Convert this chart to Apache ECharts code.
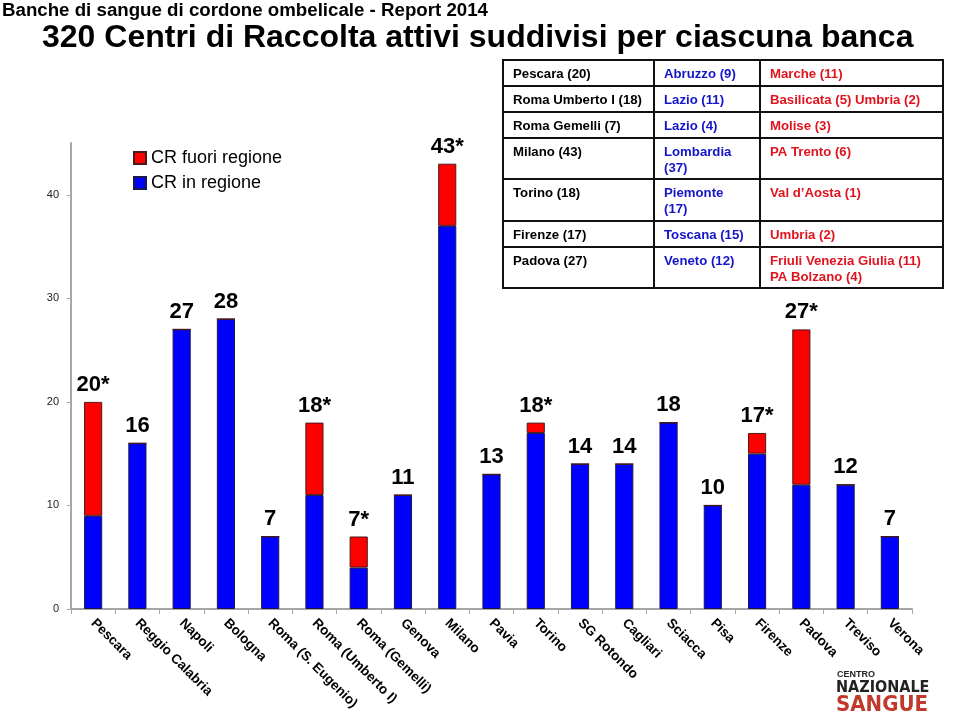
<!DOCTYPE html>
<html>
<head>
<meta charset="UTF-8">
<title>cordone-ombelicale-2014</title>
<script src="https://cdn.jsdelivr.net/npm/echarts@6/dist/echarts.min.js"></script>
<style>
html, body { margin: 0; padding: 0; background: #fff; }
#main { width: 960px; height: 718px; }
</style>
</head>
<body>
<div id="main"></div>
<script>
// banche (categorie asse x)
var banche = ['Pescara', 'Reggio Calabria', 'Napoli', 'Bologna', 'Roma (S. Eugenio)',
  'Roma (Umberto I)', 'Roma (Gemelli)', 'Genova', 'Milano', 'Pavia', 'Torino',
  'SG Rotondo', 'Cagliari', 'Sciacca', 'Pisa', 'Firenze', 'Padova', 'Treviso', 'Verona'];
// CR in regione
var inRegione = [9, 16, 27, 28, 7, 11, 4, 11, 37, 13, 17, 14, 14, 18, 10, 15, 12, 12, 7];
// CR fuori regione
var fuoriRegione = [11, 0, 0, 0, 0, 7, 3, 0, 6, 0, 1, 0, 0, 0, 0, 2, 15, 0, 0];
var yTicks = [0, 10, 20, 30, 40];

// tabella in alto a destra
var tabBanca = ['Pescara (20)', 'Roma Umberto I (18)', 'Roma Gemelli (7)', 'Milano (43)',
  'Torino (18)', 'Firenze (17)', 'Padova (27)'];
var tabIn = ['Abruzzo (9)', 'Lazio (11)', 'Lazio (4)', 'Lombardia\n(37)',
  'Piemonte\n(17)', 'Toscana (15)', 'Veneto (12)'];
var tabFuori = ['Marche (11)', 'Basilicata (5) Umbria (2)', 'Molise (3)', 'PA Trento (6)',
  'Val d\u2019Aosta (1)', 'Umbria (2)', 'Friuli Venezia Giulia (11)\nPA Bolzano (4)'];

var FONT = '"Liberation Sans", Arial, sans-serif';
var totali = inRegione.map(function (v, i) { return v + fuoriRegione[i]; });

// griglia della tabella
var rowY = [60, 86, 112, 138, 179, 221, 247, 288];
var colX = [503, 654, 760, 943];
var graphics = [];
graphics.push({ type: 'rect', shape: { x: colX[0], y: rowY[0], width: colX[3] - colX[0], height: rowY[7] - rowY[0] },
  style: { fill: '#fff', stroke: '#111', lineWidth: 2 }, z: 10 });
for (var r = 1; r < rowY.length - 1; r++) {
  graphics.push({ type: 'line', shape: { x1: colX[0], y1: rowY[r], x2: colX[3], y2: rowY[r] },
    style: { stroke: '#111', lineWidth: 2 }, z: 11 });
}
for (var c = 1; c < colX.length - 1; c++) {
  graphics.push({ type: 'line', shape: { x1: colX[c], y1: rowY[0], x2: colX[c], y2: rowY[7] },
    style: { stroke: '#111', lineWidth: 2 }, z: 11 });
}
var cols = [[tabBanca, '#000'], [tabIn, '#1414c8'], [tabFuori, '#e0141e']];
cols.forEach(function (cc, ci) {
  cc[0].forEach(function (t, ri) {
    graphics.push({ type: 'text', x: colX[ci] + 10, y: rowY[ri] + 6, z: 12,
      style: { text: t, fill: cc[1], font: 'bold 13.2px ' + FONT, lineHeight: 16, verticalAlign: 'top' } });
  });
});

// titoli
graphics.push({ type: 'text', x: 2, y: 1, style: { text: 'Banche di sangue di cordone ombelicale - Report 2014',
  fill: '#000', font: 'bold 18.7px ' + FONT } });
graphics.push({ type: 'text', x: 42, y: 22, style: { text: '320 Centri di Raccolta attivi suddivisi per ciascuna banca',
  fill: '#000', font: 'bold 32px ' + FONT } });

// logo (solo testo)
graphics.push({ type: 'text', x: 837, y: 670, style: { text: 'CENTRO', fill: '#222', font: 'bold 9px ' + FONT } });
graphics.push({ type: 'text', x: 836, y: 680, style: { text: 'NAZIONALE', fill: '#222', font: 'bold 16px "DejaVu Sans Condensed", ' + FONT } });
graphics.push({ type: 'text', x: 836, y: 694, style: { text: 'SANGUE', fill: '#c0392b', font: 'bold 22px "DejaVu Sans Condensed", ' + FONT } });

var myChart = echarts.init(document.getElementById('main'));
var option = {
  animation: false,
  textStyle: { fontFamily: FONT },
  grid: { left: 71, right: 48, top: 143, bottom: 109, containLabel: false },
  legend: {
    data: ['CR fuori regione', 'CR in regione'],
    orient: 'vertical', left: 128, top: 144,
    icon: 'rect', itemWidth: 12, itemHeight: 12, itemGap: 7,
    textStyle: { fontSize: 18, color: '#000', fontFamily: FONT }
  },
  xAxis: {
    type: 'category', data: banche,
    axisLine: { lineStyle: { color: '#a6a6a6', width: 2 } },
    axisTick: { show: true, length: 5, lineStyle: { color: '#a6a6a6' } },
    axisLabel: { interval: 0, rotate: -45, fontSize: 13.5, fontWeight: 'bold', color: '#000', margin: 12 }
  },
  yAxis: {
    type: 'value', min: 0, max: 45, interval: 10,
    splitLine: { show: false },
    axisLine: { show: true, lineStyle: { color: '#a6a6a6', width: 2 } },
    axisTick: { show: true, length: 4, lineStyle: { color: '#a6a6a6' }, customValues: yTicks },
    axisLabel: { fontSize: 11, color: '#222', margin: 12, customValues: yTicks }
  },
  series: [
    {
      name: 'CR in regione', type: 'bar', stack: 'tot', data: inRegione,
      barWidth: '41%',
      itemStyle: { color: '#0000ff', borderColor: '#1a1a4a', borderWidth: 1 }
    },
    {
      name: 'CR fuori regione', type: 'bar', stack: 'tot', data: fuoriRegione,
      barWidth: '41%',
      itemStyle: { color: '#ff0000', borderColor: '#4a1a1a', borderWidth: 1 },
      label: {
        show: true, position: 'top', distance: 6,
        fontSize: 22, fontWeight: 'bold', color: '#000', fontFamily: FONT,
        formatter: function (p) {
          var i = p.dataIndex;
          return totali[i] + (fuoriRegione[i] > 0 ? '*' : '');
        }
      }
    }
  ],
  graphic: graphics
};
myChart.setOption(option);
</script>
</body>
</html>
